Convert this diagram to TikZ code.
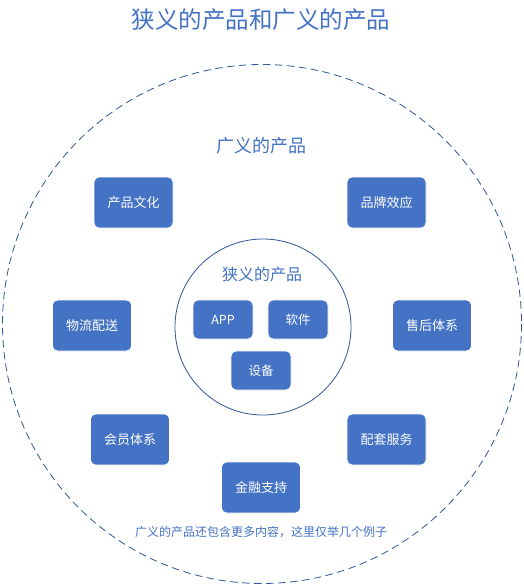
\documentclass[tikz,border=0pt]{standalone}
\usepackage{fontspec}
\setmainfont{Noto Sans CJK SC}
\definecolor{boxblue}{HTML}{4472C4}
\definecolor{lineblue}{HTML}{2F5597}
\definecolor{textblue}{HTML}{4472C4}
\begin{document}
\begin{tikzpicture}[x=1pt,y=-1pt,
  bigbox/.style={rectangle,rounded corners=5pt,fill=boxblue,draw=white,line width=0.8pt,minimum width=79pt,minimum height=51pt,text=white,font=\fontsize{13}{15}\selectfont,inner sep=0pt},
  smallbox/.style={rectangle,rounded corners=5pt,fill=boxblue,draw=white,line width=0.8pt,minimum width=60pt,minimum height=39pt,text=white,font=\fontsize{12.5}{14}\selectfont,inner sep=0pt},
  lbl/.style={text=textblue,inner sep=0pt}]
\useasboundingbox (0,0) rectangle (523,586);
\fill[white] (0,0) rectangle (523,586);
\draw[lineblue,line width=0.8pt,dash pattern=on 7.5pt off 4.5pt] (262,324) circle[radius=259.5];
\draw[lineblue,line width=0.8pt] (263,327) circle[radius=88];
\node[lbl,font=\fontsize{23.5}{26}\selectfont] (title) at (261,20) {狭义的产品和广义的产品};
\node[lbl,font=\fontsize{18}{20}\selectfont] (broad) at (261,146) {广义的产品};
\node[lbl,font=\fontsize{16}{18}\selectfont] (narrow) at (262,274) {狭义的产品};
\node[lbl,font=\fontsize{12}{14}\selectfont] (note) at (261,532) {广义的产品还包含更多内容，这里仅举几个例子};
\node[bigbox] (culture) at (133.5,202.5) {产品文化};
\node[bigbox] (brand) at (386.5,202.5) {品牌效应};
\node[bigbox] (logistics) at (92,325.5) {物流配送};
\node[bigbox] (aftersale) at (432,325.5) {售后体系};
\node[bigbox] (member) at (130,439.5) {会员体系};
\node[bigbox] (service) at (386.5,439.5) {配套服务};
\node[bigbox] (finance) at (261,487.5) {金融支持};
\node[smallbox] (app) at (223,319.5) {APP};
\node[smallbox] (software) at (298,319.5) {软件};
\node[smallbox] (device) at (261,370.5) {设备};
\end{tikzpicture}
\end{document}
